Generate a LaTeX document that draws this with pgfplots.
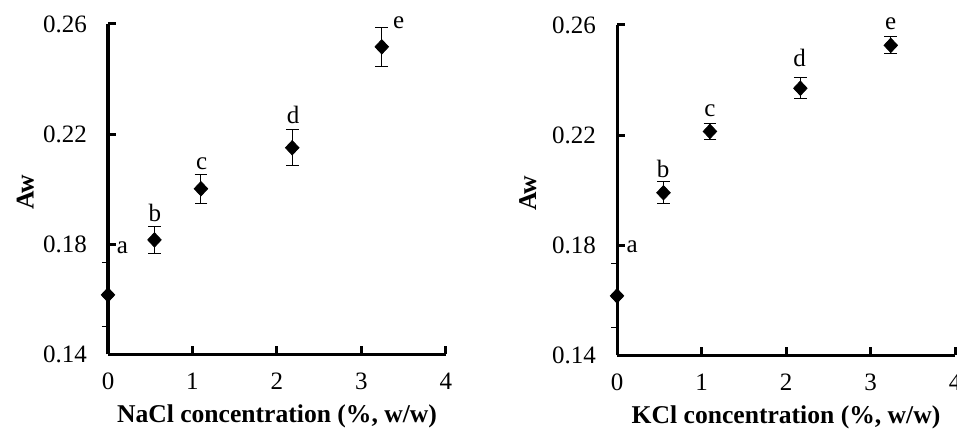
\documentclass[border=0pt]{standalone}
\usepackage{pgfplots}
\pgfplotsset{compat=1.18}
\usepackage{fontspec}
\setmainfont{Liberation Serif}

\pgfplotstableread{
x     y       err
0     0.1615  0
0.55  0.1815  0.0050
1.10  0.2001  0.0053
2.18  0.2150  0.0065
3.24  0.2517  0.0071
}\nacl

\pgfplotstableread{
x     y       err
0     0.1615  0
0.55  0.1990  0.0040
1.10  0.2213  0.0030
2.17  0.2370  0.0039
3.24  0.2526  0.0031
}\kcl

\pgfplotsset{saltplot/.style={
  scale only axis, width=169pt, height=165pt,
  xmin=0, xmax=4, ymin=0.14, ymax=0.26,
  axis x line=bottom, axis y line=left,
  axis line style={line width=1.5pt, -},
  xtick={0,1,2,3,4}, ytick={0.14,0.18,0.22,0.26},
  scaled y ticks=false,
  tick align=inside, major tick length=4pt,
  tick style={line width=1.5pt, black},
  extra y ticks={0.15,0.1733}, extra y tick labels={},
  extra y tick style={tick align=outside, major tick length=3pt,
    tick style={line width=0.4pt, black}},
  /pgf/number format/assume math mode=true,
  yticklabel style={/pgf/number format/fixed, /pgf/number format/precision=2,
    /pgf/number format/fixed zerofill, font=\fontsize{12.5}{14}\selectfont, xshift=-7pt},
  xticklabel style={font=\fontsize{12.5}{14}\selectfont, yshift=-6pt},
  xlabel style={font=\bfseries\fontsize{12.8}{15}\selectfont,
    at={(axis description cs:0.5,-0.19)}, anchor=center},
  ylabel style={font=\bfseries\fontsize{12.8}{15}\selectfont,
    at={(axis description cs:-0.245,0.49)}, anchor=center},
  ylabel={Aw},
  clip=false,
}}
\tikzset{lett/.style={font=\fontsize{12.5}{14}\selectfont, inner sep=0pt}}

\begin{document}
\begin{tikzpicture}
\useasboundingbox (0,0) rectangle (478.5pt,217pt);

\begin{axis}[saltplot, at={(54pt,40pt)}, anchor=south west,
  xlabel={NaCl concentration (\%, w/w)}]
\addplot[only marks, mark=diamond*, mark size=3.6pt, black,
  mark options={xscale=1.25},
  error bars/.cd, y dir=both, y explicit,
  error bar style={line width=0.5pt, black},
  error mark options={rotate=90, mark size=3.2pt, line width=0.5pt, black}]
  table[x=x, y=y, y error=err] {\nacl};
\node[lett] at (axis cs:0.17,0.1785) {a};
\node[lett] at (axis cs:0.556,0.1913) {b};
\node[lett] at (axis cs:1.11,0.2093) {c};
\node[lett] at (axis cs:2.19,0.2269) {d};
\node[lett] at (axis cs:3.44,0.2603) {e};
\end{axis}

\begin{axis}[saltplot, at={(308.5pt,39.5pt)}, anchor=south west,
  xlabel={KCl concentration (\%, w/w)}, ylabel style={at={(axis description cs:-0.264,0.49)}}]
\addplot[only marks, mark=diamond*, mark size=3.6pt, black,
  mark options={xscale=1.25},
  error bars/.cd, y dir=both, y explicit,
  error bar style={line width=0.5pt, black},
  error mark options={rotate=90, mark size=3.2pt, line width=0.5pt, black}]
  table[x=x, y=y, y error=err] {\kcl};
\node[lett] at (axis cs:0.178,0.1793) {a};
\node[lett] at (axis cs:0.546,0.2077) {b};
\node[lett] at (axis cs:1.10,0.2288) {c};
\node[lett] at (axis cs:2.16,0.2479) {d};
\node[lett] at (axis cs:3.24,0.2603) {e};
\end{axis}
\end{tikzpicture}
\end{document}
